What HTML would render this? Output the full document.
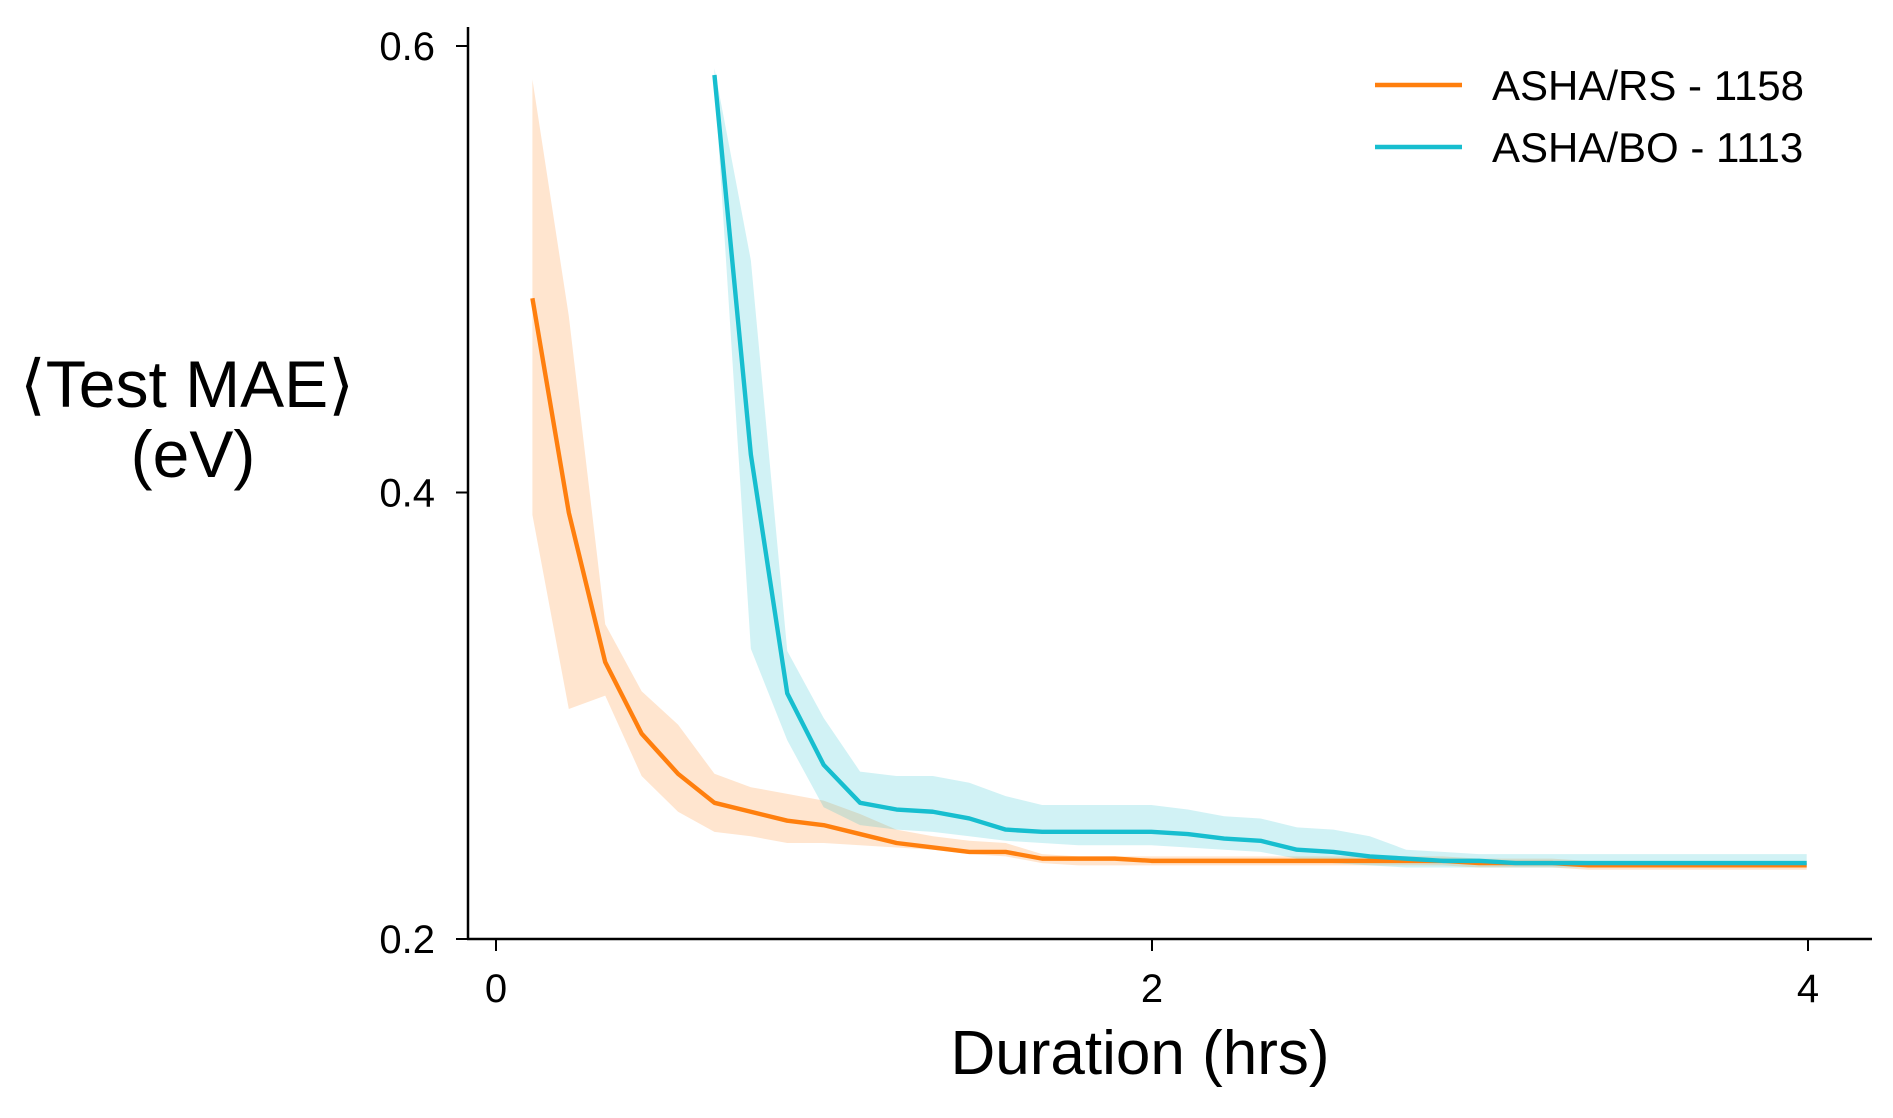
<!DOCTYPE html>
<html><head><meta charset="utf-8"><style>
html,body{margin:0;padding:0;background:#fff;}
svg text{font-family:"Liberation Sans",sans-serif;fill:#000;}
</style></head><body>
<svg id="chart" width="1893" height="1113" xmlns="http://www.w3.org/2000/svg">
<g id="bands"></g><g id="lines"></g>
<line x1="468" y1="27" x2="468" y2="940" stroke="#000" stroke-width="2.5"/>
<line x1="467" y1="939" x2="1872" y2="939" stroke="#000" stroke-width="2.5"/>
<g id="ticks"></g>
<text x="187" y="407" font-size="66" text-anchor="middle">⟨Test MAE⟩</text>
<text x="193" y="477" font-size="66" text-anchor="middle">(eV)</text>
<text x="1140" y="1074" font-size="62" text-anchor="middle">Duration (hrs)</text>
<g>
<line x1="1375" y1="85" x2="1462" y2="85" stroke="#ff7f0e" stroke-width="4.5"/>
<text x="1492" y="100" font-size="42">ASHA/RS - 1158</text>
<line x1="1375" y1="147" x2="1462" y2="147" stroke="#17becf" stroke-width="4.5"/>
<text x="1492" y="162" font-size="42">ASHA/BO - 1113</text>
</g>
</svg>
<script>
const rsMean=[0.487,0.391,0.324,0.292,0.274,0.261,0.257,0.253,0.251,0.247,0.243,0.241,0.239,0.239,0.236,0.236,0.236,0.235,0.235,0.235,0.235,0.235,0.235,0.235,0.235,0.235,0.234,0.234,0.234,0.233,0.233,0.233,0.233,0.233,0.233,0.233];
const rsUpper=[0.585,0.479,0.341,0.311,0.296,0.274,0.268,0.265,0.262,0.256,0.249,0.246,0.244,0.243,0.238,0.237,0.237,0.237,0.237,0.237,0.237,0.237,0.237,0.237,0.237,0.237,0.236,0.236,0.236,0.235,0.235,0.235,0.235,0.235,0.235,0.235];
const rsLower=[0.390,0.303,0.309,0.273,0.257,0.248,0.246,0.243,0.243,0.242,0.241,0.240,0.238,0.237,0.234,0.233,0.233,0.233,0.233,0.233,0.233,0.233,0.233,0.233,0.233,0.233,0.232,0.232,0.232,0.231,0.231,0.231,0.231,0.231,0.231,0.231];
const boMean=[0.587,0.417,0.310,0.278,0.261,0.258,0.257,0.254,0.249,0.248,0.248,0.248,0.248,0.247,0.245,0.244,0.240,0.239,0.237,0.236,0.235,0.235,0.234,0.234,0.234,0.234,0.234,0.234,0.234,0.234,0.234];
const boUpper=[0.590,0.504,0.329,0.299,0.275,0.273,0.273,0.270,0.264,0.260,0.260,0.260,0.260,0.258,0.255,0.254,0.250,0.249,0.246,0.240,0.239,0.238,0.238,0.238,0.238,0.238,0.238,0.238,0.238,0.238,0.238];
const boLower=[0.585,0.330,0.289,0.259,0.251,0.249,0.248,0.246,0.244,0.243,0.242,0.242,0.242,0.241,0.240,0.239,0.236,0.234,0.233,0.232,0.232,0.232,0.232,0.232,0.232,0.232,0.232,0.232,0.232,0.232,0.232];
const timeStep=0.111;
const rsStart=1, boStart=6;
const xTicks=[0,2,4];
const yTicks=[0.2,0.4,0.6];
const yTickLabels=["0.2","0.4","0.6"];
const NS="http://www.w3.org/2000/svg";
const X=v=>496+(1808-496)*v/4;
const Y=v=>939-(939-46)*(v-0.2)/0.4;
function t(i,start){return (i+start)*timeStep;}
function band(up,lo,start,color,name){
  let pts=up.map((v,i)=>X(t(i,start))+","+Y(v));
  for(let i=lo.length-1;i>=0;i--)pts.push(X(t(i,start))+","+Y(lo[i]));
  const p=document.createElementNS(NS,"polygon");
  p.setAttribute("points",pts.join(" "));p.setAttribute("fill",color);p.setAttribute("fill-opacity","0.2");
  
  
  document.getElementById("bands").appendChild(p);
}
function line(m,start,color,name){
  const p=document.createElementNS(NS,"polyline");
  p.setAttribute("points",m.map((v,i)=>X(t(i,start))+","+Y(v)).join(" "));
  p.setAttribute("fill","none");p.setAttribute("stroke",color);p.setAttribute("stroke-width","4.4");p.setAttribute("stroke-linejoin","round");
  
  
  document.getElementById("lines").appendChild(p);
}
band(rsUpper,rsLower,rsStart,"#ff7f0e","rs-band");
band(boUpper,boLower,boStart,"#17becf","bo-band");
line(rsMean,rsStart,"#ff7f0e","rs-line");
line(boMean,boStart,"#17becf","bo-line");
const tg=document.getElementById("ticks");
xTicks.forEach(v=>{
  const l=document.createElementNS(NS,"line");
  l.setAttribute("x1",X(v));l.setAttribute("x2",X(v));l.setAttribute("y1",939);l.setAttribute("y2",951);l.setAttribute("stroke","#000");l.setAttribute("stroke-width","2");
  
  
  tg.appendChild(l);
  const tx=document.createElementNS(NS,"text");
  tx.setAttribute("x",X(v));tx.setAttribute("y",1002);tx.setAttribute("font-size","40");tx.setAttribute("text-anchor","middle");tx.textContent=String(v);
  
  
  tg.appendChild(tx);
});
yTicks.forEach((v,i)=>{
  const l=document.createElementNS(NS,"line");
  l.setAttribute("x1",456);l.setAttribute("x2",468);l.setAttribute("y1",Y(v));l.setAttribute("y2",Y(v));l.setAttribute("stroke","#000");l.setAttribute("stroke-width","2");
  
  
  tg.appendChild(l);
  const tx=document.createElementNS(NS,"text");
  tx.setAttribute("x",435);tx.setAttribute("y",Y(v)+14);tx.setAttribute("font-size","40");tx.setAttribute("text-anchor","end");tx.textContent=yTickLabels[i];
  
  
  tg.appendChild(tx);
});
</script>
</body></html>
